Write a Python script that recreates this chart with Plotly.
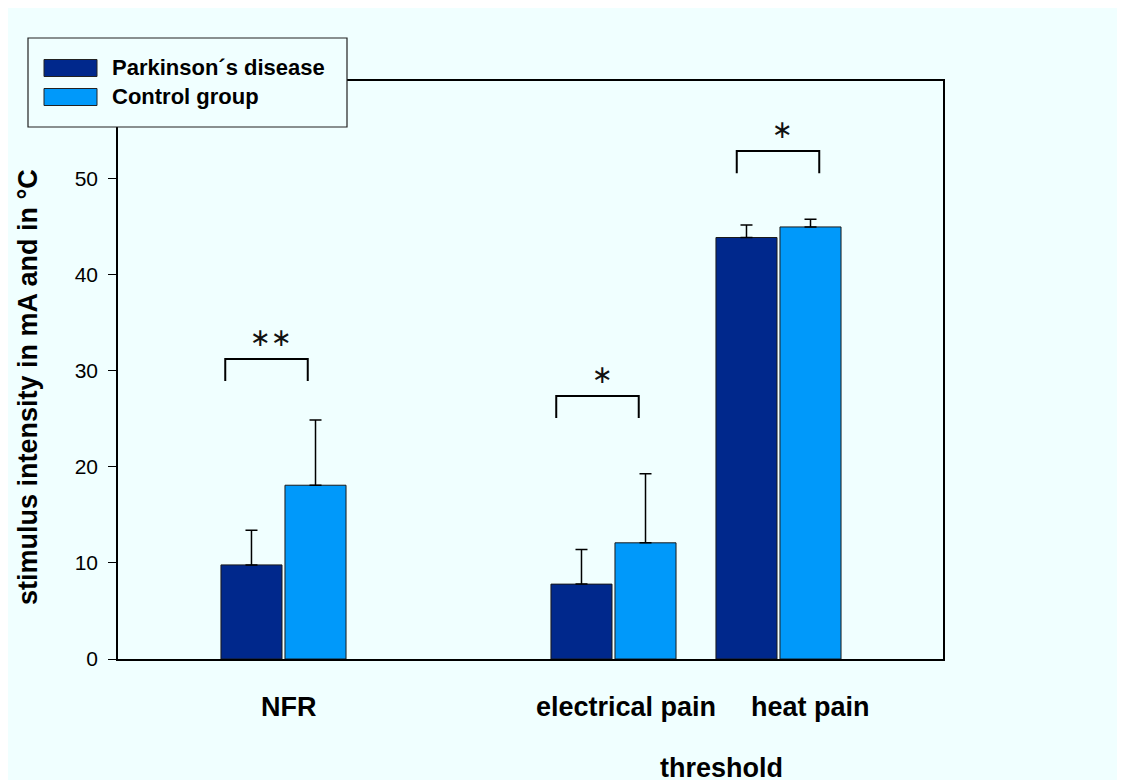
import plotly.graph_objects as go

# ---- data ----
categories = ["NFR", "electrical pain", "heat pain"]
pd_mean = [9.8, 7.8, 43.9]
pd_err = [3.6, 3.6, 1.3]
ctrl_mean = [18.1, 12.1, 45.0]
ctrl_err = [6.8, 7.2, 0.8]
sig_labels = ["**", "*", "*"]
sig_level = [31.25, 27.4, 52.9]   # bracket heights
y_ticks = [0, 10, 20, 30, 40, 50]

# ---- layout constants (screen pixels; the page body adds an 8px offset) ----
OFF = 8
W, H = 1133, 780
L, R, T, B = 118, 943, 81, 659
cat_order = ["_pad", "NFR", "_gap", "electrical pain", "heat pain"]
cat_idx = {c: i for i, c in enumerate(cat_order)}
bar_w = 0.37
bg = "#f0ffff"
dark = "#00288c"
light = "#0099fa"
font_main = "Arial, Liberation Sans, Helvetica, sans-serif"

def px_x(p):
    return (p - L) / (R - L)

def px_y(p):
    return (B - p) / (B - T)

fig = go.Figure()
fig.add_trace(go.Bar(
    x=categories, y=pd_mean, name="Parkinson´s disease",
    width=bar_w, offset=-0.376,
    marker=dict(color=dark, line=dict(color="#1a1a1a", width=1)),
    error_y=dict(type="data", array=pd_err, arrayminus=[0]*3, symmetric=False,
                 color="black", thickness=1.5, width=6),
    showlegend=False))
fig.add_trace(go.Bar(
    x=categories, y=ctrl_mean, name="Control group",
    width=bar_w, offset=0.012,
    marker=dict(color=light, line=dict(color="#1a1a1a", width=1)),
    error_y=dict(type="data", array=ctrl_err, arrayminus=[0]*3, symmetric=False,
                 color="black", thickness=1.5, width=6),
    showlegend=False))

shapes = []
annotations = []
# significance brackets
br_shift = [-0.1, -0.094, 0.0]
for c, lab, lev, sh in zip(categories, sig_labels, sig_level, br_shift):
    cx = cat_idx[c] + sh
    x0, x1 = cx - 0.25, cx + 0.25
    shapes.append(dict(type="path", xref="x", yref="y",
                       path=f"M {x0},{lev-2.3} L {x0},{lev} L {x1},{lev} L {x1},{lev-2.3}",
                       line=dict(color="black", width=2)))
    annotations.append(dict(x=cx + 0.03, y=lev + 2.2, xref="x", yref="y",
                            text=lab.replace("*", "∗"), showarrow=False,
                            font=dict(family="DejaVu Sans", size=25, color="#111"),
                            yanchor="middle"))

# manual legend
shapes.append(dict(type="rect", xref="paper", yref="paper", layer="above",
                   x0=px_x(28), x1=px_x(347), y0=px_y(127), y1=px_y(38),
                   fillcolor=bg, line=dict(color="#222", width=1.2)))
for i, (nm, col) in enumerate([("Parkinson´s disease", dark), ("Control group", light)]):
    yc = 68 + i * 29
    shapes.append(dict(type="rect", xref="paper", yref="paper", layer="above",
                       x0=px_x(44), x1=px_x(97), y0=px_y(yc + 8.5), y1=px_y(yc - 8.5),
                       fillcolor=col, line=dict(color="#222", width=1)))
    annotations.append(dict(x=px_x(110), y=px_y(yc), xref="paper", yref="paper",
                            text=f"<b>{nm}</b>", showarrow=False, xanchor="left",
                            yanchor="middle",
                            font=dict(family=font_main, size=22, color="black")))

# x category labels
label_px = [289, 626, 810]
for c, lx in zip(categories, label_px):
    annotations.append(dict(x=px_x(lx), y=px_y(707), xref="paper", yref="paper",
                            text=f"<b>{c}</b>", showarrow=False,
                            xanchor="center", yanchor="middle",
                            font=dict(family=font_main, size=27, color="black")))
annotations.append(dict(x=px_x(721), y=px_y(768), xref="paper", yref="paper",
                        text="<b>threshold</b>", showarrow=False,
                        xanchor="center", yanchor="middle",
                        font=dict(family=font_main, size=27, color="black")))
# y title
annotations.append(dict(x=px_x(28), y=px_y(387), xref="paper", yref="paper",
                        text="<b>stimulus intensity in mA and in °C</b>", showarrow=False,
                        textangle=-90, xanchor="center", yanchor="middle",
                        font=dict(family=font_main, size=27, color="black")))

fig.update_layout(
    width=W, height=H,
    margin=dict(l=L - OFF, r=W - (R - OFF), t=T - OFF, b=H - (B - OFF), pad=0),
    paper_bgcolor=bg, plot_bgcolor=bg,
    barmode="overlay",
    shapes=shapes, annotations=annotations,
    xaxis=dict(type="category", categoryorder="array", categoryarray=cat_order,
               range=[0, 5], showticklabels=False, ticks="", showgrid=False,
               zeroline=False, showline=True, linecolor="black", linewidth=2,
               mirror=True),
    yaxis=dict(range=[0, 60.2], tickvals=y_ticks, ticks="outside", ticklen=8,
               tickwidth=1.2, tickcolor="black", showgrid=False, zeroline=False,
               showline=True, linecolor="black", linewidth=1.5, mirror=True,
               tickfont=dict(family=font_main, size=21, color="black"),
               ticklabelstandoff=6),
    font=dict(family=font_main),
)

fig.write_html("out.html",
               post_script="document.documentElement.style.overflow='hidden';")
